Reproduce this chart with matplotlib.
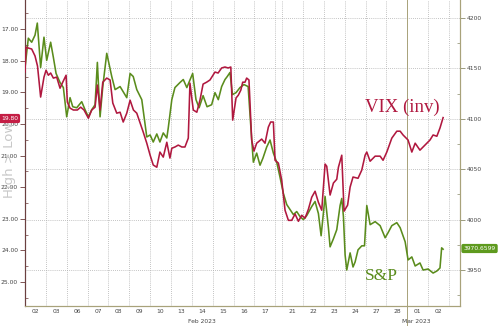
import numpy as np
import matplotlib
matplotlib.use("Agg")
import matplotlib.pyplot as plt
from matplotlib.ticker import MultipleLocator
import matplotlib.transforms as mtransforms

# ---- trading-day axis (positions in session units) ----
day_labels = ["02", "03", "06", "07", "08", "09", "10", "13", "14", "15", "16", "17",
              "", "21", "22", "23", "24", "27", "28", "01", "02"]
day_widths = [1] * 12 + [0.33] + [1] * 8
month_labels = ["Feb 2023", "Mar 2023"]

# ---- S&P (green) ----
spx_t = [0, 0.16, 0.32, 0.48, 0.59, 0.75, 0.91, 1.04, 1.23, 1.36, 1.49, 1.68, 1.84, 2.00,
         2.16, 2.29, 2.48, 2.72, 2.88, 3.04, 3.20, 3.36, 3.47, 3.60, 3.73, 3.92, 4.16, 4.32,
         4.56, 4.88, 5.04, 5.19, 5.36, 5.60, 5.84, 6.00, 6.15, 6.32, 6.47, 6.63, 6.80, 6.87,
         7.04, 7.19, 7.43, 7.59, 7.76, 7.88, 8.04, 8.20, 8.35, 8.54, 8.73, 8.95, 9.11, 9.27,
         9.43, 9.59, 9.70, 9.83, 9.95, 10.12, 10.31, 10.50, 10.70, 10.84, 10.95, 11.11, 11.27,
         11.41, 11.59, 11.75, 11.91, 12.07, 12.23, 12.39, 12.55, 12.71, 12.87, 13.03, 13.19,
         13.35, 13.51, 13.75, 13.91, 14.07, 14.20, 14.39, 14.55, 14.63, 14.79, 14.95, 15.11,
         15.19, 15.27, 15.35, 15.43, 15.59, 15.73, 15.83, 15.97, 16.15, 16.28, 16.39, 16.55,
         16.79, 17.03, 17.27, 17.41, 17.59, 17.83, 17.99, 18.23, 18.37, 18.55, 18.71, 18.94,
         19.09, 19.33, 19.57, 19.75, 19.90, 19.98, 20.05]
spx = [4151, 4180, 4176, 4183, 4195, 4151, 4181, 4158, 4176, 4161, 4145, 4136, 4131, 4102,
       4121, 4112, 4111, 4117, 4109, 4102, 4109, 4114, 4156, 4102, 4132, 4165, 4142, 4129,
       4132, 4121, 4145, 4142, 4129, 4119, 4082, 4084, 4077, 4085, 4077, 4086, 4081, 4091,
       4119, 4131, 4136, 4139, 4131, 4137, 4145, 4119, 4111, 4123, 4112, 4114, 4126, 4119,
       4132, 4139, 4142, 4146, 4124, 4126, 4131, 4134, 4132, 4089, 4057, 4066, 4054,
       4061, 4072, 4079, 4066, 4057, 4042, 4026, 4015, 4010, 4005, 4008, 4003,
       4000, 4004, 4013, 4018, 4006, 3984, 4023, 3992, 3973, 3981, 3990, 4014,
       4021, 4003, 3965, 3950, 3967, 3953, 3958, 3970, 3974, 3974, 4014, 3995,
       3998, 3994, 3982, 3987, 3994, 3997, 3992, 3978, 3960, 3963, 3954, 3957,
       3950, 3951, 3947, 3949, 3952, 3972, 3970.6599]

# ---- VIX, inverted (red) ----
vix_t = [0, 0.05, 0.16, 0.32, 0.48, 0.60, 0.75, 0.91, 1.01, 1.12, 1.23, 1.36, 1.52, 1.68,
         1.81, 1.97, 2.03, 2.16, 2.32, 2.51, 2.67, 2.83, 3.04, 3.20, 3.36, 3.47, 3.60, 3.73,
         3.92, 4.08, 4.21, 4.40, 4.56, 4.71, 4.88, 5.04, 5.20, 5.36, 5.52, 5.67, 5.84, 6.00,
         6.15, 6.32, 6.47, 6.63, 6.80, 6.95, 7.04, 7.19, 7.35, 7.52, 7.67, 7.83, 7.91, 8.07,
         8.24, 8.39, 8.54, 8.71, 8.87, 9.11, 9.26, 9.43, 9.59, 9.74, 9.87, 9.96, 10.12, 10.23,
         10.35, 10.44, 10.55, 10.63, 10.74, 10.87, 10.98, 11.11, 11.35, 11.51, 11.67, 11.78,
         11.91, 11.99, 12.15, 12.31, 12.47, 12.63, 12.79, 12.95, 13.11, 13.27, 13.43, 13.59,
         13.75, 13.91, 14.07, 14.23, 14.39, 14.47, 14.63, 14.79, 14.95, 15.03, 15.19, 15.30,
         15.47, 15.59, 15.73, 15.97, 16.15, 16.31, 16.39, 16.55, 16.79, 17.03, 17.17, 17.35,
         17.59, 17.83, 17.99, 18.13, 18.37, 18.55, 18.71, 18.94, 19.18, 19.42, 19.57, 19.75,
         19.90, 20.05]
vix = [18.36, 17.57, 17.60, 17.63, 17.85, 18.17, 19.15, 18.52, 18.30, 18.46, 18.39, 18.55,
       18.52, 18.87, 18.68, 18.46, 19.31, 19.50, 19.56, 19.56, 19.47, 19.56, 19.82, 19.56,
       19.47, 18.77, 19.56, 18.68, 18.55, 18.61, 19.34, 19.66, 19.63, 19.94, 19.66, 19.25,
       19.56, 19.66, 19.97, 20.26, 20.61, 20.99, 21.30, 21.37, 20.89, 21.05, 20.58, 21.08,
       20.77, 20.73, 20.67, 20.73, 20.73, 20.45, 18.71, 19.56, 19.63, 19.25, 18.74, 18.68,
       18.61, 18.36, 18.39, 18.23, 18.20, 18.23, 18.20, 19.88, 19.18, 19.09, 18.93, 18.68,
       18.68, 18.55, 18.61, 20.51, 20.86, 20.61, 20.48, 20.61, 20.10, 19.94, 19.94, 21.15,
       21.24, 21.78, 22.73, 23.05, 23.05, 22.85, 23.08, 22.89, 22.98, 22.70, 22.32, 22.13,
       22.48, 22.73, 21.27, 21.34, 22.25, 21.87, 21.75, 21.37, 20.99, 22.76, 22.57, 22.00,
       21.68, 21.72, 21.46, 20.99, 20.89, 21.18, 21.02, 21.02, 21.15, 20.89, 20.45, 20.23,
       20.23, 20.35, 20.51, 20.89, 20.61, 20.83, 20.67, 20.51, 20.35, 20.39, 20.13, 19.80]

vix_ticks = [17, 18, 19, 20, 21, 22, 23, 24, 25]
spx_ticks = [3950, 4000, 4050, 4100, 4150, 4200]

RED = "#b0183f"
GREEN = "#5a8c1c"
LBL = "#444444"
FS = 4.3

fig = plt.figure(figsize=(5.0, 3.26), dpi=100)
fig.patch.set_facecolor("white")
ax = fig.add_axes([25 / 500, 20 / 326, 435 / 500, 306 / 326])
ax2 = ax.twinx()

# S&P on primary (right side)
ax.yaxis.tick_right()
ax.set_ylim(3914.3, 4217.9)
ax.set_xlim(0, 20.86)
ax.plot(spx_t, spx, color=GREEN, lw=1.15, solid_joinstyle="round", zorder=3)

# VIX on twin (left side, inverted)
ax2.yaxis.tick_left()
ax2.set_ylim(25.76, 16.08)
ax2.plot(vix_t, vix, color=RED, lw=1.15, solid_joinstyle="round", zorder=3)

# day boundaries and centers
bounds = np.concatenate([[0], np.cumsum(day_widths)])
centers = (bounds[:-1] + bounds[1:]) / 2
month_start = bounds[19]
for b in bounds[1:]:
    ax.axvline(b, color="#b0b0b0", lw=0.6, ls=(0, (1, 1.5)), zorder=1)

ax.set_xticks([c for c, l in zip(centers, day_labels) if l])
ax.set_xticklabels([l for l in day_labels if l], fontsize=FS, color=LBL)
ax.tick_params(axis="x", length=0, pad=2.5)

# horizontal grid from S&P axis
ax.set_yticks(spx_ticks)
for v in spx_ticks:
    ax.axhline(v, color="#b0b0b0", lw=0.6, ls=(0, (1, 1.5)), zorder=1)
ax.yaxis.set_minor_locator(MultipleLocator(25))
ax.tick_params(axis="y", which="major", labelsize=FS, labelcolor=LBL, length=3.5,
               width=0.6, color="#8a8a6a", pad=1.5, direction="out")
ax.tick_params(axis="y", which="minor", length=2, width=0.5, color="#8a8a6a", direction="in")

ax2.set_yticks(vix_ticks)
ax2.set_yticklabels([f"{v:.2f}" for v in vix_ticks])
ax2.yaxis.set_minor_locator(MultipleLocator(0.5))
ax2.tick_params(axis="y", which="major", labelsize=FS, labelcolor=LBL, length=3.5,
                width=0.6, color="#6b3a3a", pad=1.5, direction="out")
ax2.tick_params(axis="y", which="minor", length=2, width=0.5, color="#6b3a3a", direction="in")

for a in (ax, ax2):
    a.spines["top"].set_visible(False)
    a.spines["left"].set_color("#6b4040")
    a.spines["right"].set_color("#a8a27a")
    a.spines["bottom"].set_color("#a8a27a")
    for s in a.spines.values():
        s.set_linewidth(0.8)

# month labels and month separator
trans = mtransforms.blended_transform_factory(ax.transData, fig.transFigure)
ax.text(centers[8], 4.5 / 326, month_labels[0], transform=trans, ha="center",
        va="center", fontsize=FS, color=LBL)
ax.text((bounds[19] + bounds[20]) / 2 - 0.05, 4.5 / 326, month_labels[1], transform=trans,
        ha="center", va="center", fontsize=FS, color=LBL)
ax.plot([month_start, month_start], [0, 1.0], transform=trans, color="#a8a27a",
        lw=0.7, clip_on=False, zorder=2)

# series labels
ax.text(16.3, 4111, "VIX (inv)", color=RED, fontsize=13.5, family="Liberation Serif",
        ha="left", va="center", zorder=4)
ax.text(16.3, 3944, "S&P", color=GREEN, fontsize=12.5, family="Liberation Serif",
        ha="left", va="center", zorder=4)

# faint axis-direction watermark
fig.text(10 / 500, 1 - 198 / 326, "High > Low", rotation=90, fontsize=9.5,
         color="#c8c8c8", ha="center", va="bottom", zorder=0)

# last value tags
fig.text(1 / 500, 1 - 118.5 / 326, f"{vix[-1]:.2f}", fontsize=FS, color="white",
         ha="left", va="center", zorder=10,
         bbox=dict(boxstyle="round,pad=0.35,rounding_size=0.3", fc="#c41e45", ec="none"))
fig.text(463.5 / 500, 1 - 248.5 / 326, f"{spx[-1]:.4f}", fontsize=FS, color="white",
         ha="left", va="center", zorder=10,
         bbox=dict(boxstyle="round,pad=0.35,rounding_size=0.3", fc="#5e9a1e", ec="none"))

fig.savefig("out.png", dpi=100, facecolor="white")
